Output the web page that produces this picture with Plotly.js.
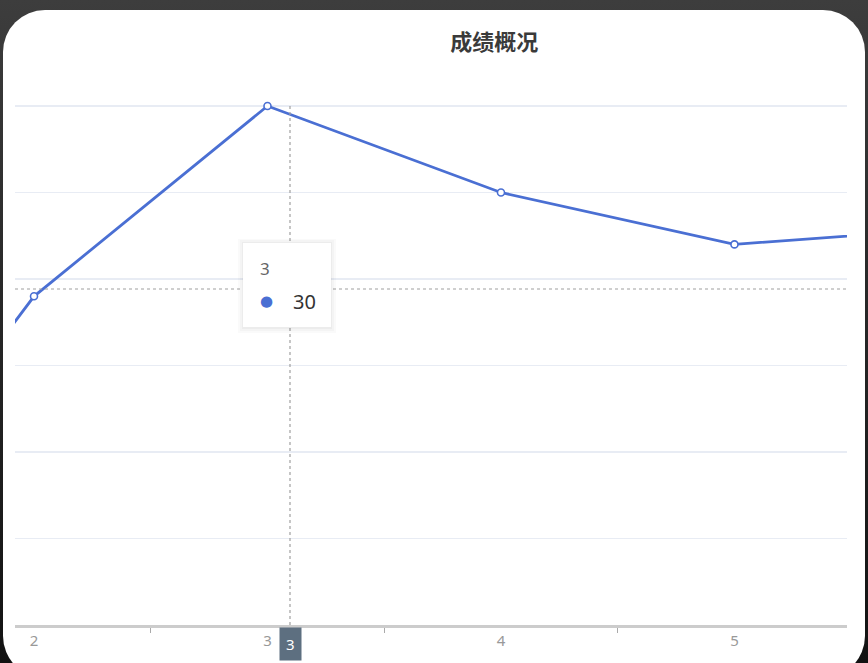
<!DOCTYPE html>
<html>
<head>
<meta charset="utf-8">
<script src="https://cdn.plot.ly/plotly-3.0.1.min.js"></script>
<style>
  html, body { margin: 0; padding: 0; width: 868px; height: 663px; overflow: hidden; }
  body { background: linear-gradient(#3d3d3d 0%, #2a2a2a 40%, #121212 100%); position: relative; }
  #card { position: absolute; left: 3px; top: 10px; width: 862px; height: 668px; background: #ffffff; border-radius: 42px; }
  #chart { position: absolute; left: 0; top: 0; width: 868px; height: 663px; }
</style>
</head>
<body>
<div id="card"></div>
<div id="chart"></div>
<script>
// ---- data ----
const categories = ['1', '2', '3', '4', '5', '6'];
const scores = [1, 19, 30, 25, 22, 23];
const titleText = '成绩概况';
const tooltipCategory = '3';
const tooltipValue = '30';

// ---- layout constants ----
const W = 868, H = 663;
const M = { l: 15, r: 21, t: 96, b: 38 };
const xs = categories.map((c, i) => i + 1);
const xRange = [1.9186, 5.482];
const yRange = [0, 30.578];
const lineColor = '#4a6fd3';

function px2x(px) { return xRange[0] + (px - M.l) / (W - M.l - M.r) * (xRange[1] - xRange[0]); }
function py2y(py) { return yRange[0] + (H - M.b - py) / (H - M.t - M.b) * (yRange[1] - yRange[0]); }

const trace = {
  x: xs,
  y: scores,
  type: 'scatter',
  mode: 'lines+markers',
  line: { color: lineColor, width: 2.8 },
  marker: { symbol: 'circle', size: 7, color: '#ffffff', line: { color: lineColor, width: 1.6 } },
  hoverinfo: 'skip',
  cliponaxis: true
};

const pointerX = px2x(290);
const pointerY = py2y(289);
const tipX0 = px2x(243), tipX1 = px2x(331);
const tipY0 = py2y(327), tipY1 = py2y(243);

const shapes = [
  // crosshair
  { type: 'line', xref: 'x', yref: 'y', x0: pointerX, x1: pointerX, y0: 0, y1: py2y(104),
    line: { color: '#a0a0a0', width: 1.2, dash: 'dot' }, layer: 'above' },
  { type: 'line', xref: 'paper', yref: 'y', x0: 0, x1: 1, y0: pointerY, y1: pointerY,
    line: { color: '#a0a0a0', width: 1.2, dash: 'dot' }, layer: 'above' },
  // tooltip shadow
  { type: 'rect', xref: 'x', yref: 'y', x0: px2x(238), x1: px2x(336), y0: py2y(333), y1: py2y(239),
    fillcolor: 'rgba(0,0,0,0.018)', line: { width: 0 }, layer: 'above' },
  { type: 'rect', xref: 'x', yref: 'y', x0: px2x(240), x1: px2x(334), y0: py2y(331), y1: py2y(240),
    fillcolor: 'rgba(0,0,0,0.025)', line: { width: 0 }, layer: 'above' },
  { type: 'rect', xref: 'x', yref: 'y', x0: px2x(242), x1: px2x(332), y0: py2y(329), y1: py2y(242),
    fillcolor: 'rgba(0,0,0,0.03)', line: { width: 0 }, layer: 'above' },
  // tooltip box
  { type: 'rect', xref: 'x', yref: 'y', x0: tipX0, x1: tipX1, y0: tipY0, y1: tipY1,
    fillcolor: '#ffffff', line: { width: 0 }, layer: 'above' }
];

const annotations = [
  { xref: 'x', yref: 'y', x: px2x(258), y: py2y(268), xanchor: 'left', yanchor: 'middle',
    text: tooltipCategory, showarrow: false, font: { family: 'Noto Sans, sans-serif', size: 17, color: '#666666' } },
  { xref: 'x', yref: 'y', x: px2x(266), y: py2y(301), xanchor: 'center', yanchor: 'middle',
    text: '●', showarrow: false, font: { family: 'DejaVu Sans, sans-serif', size: 15, color: lineColor } },
  { xref: 'x', yref: 'y', x: px2x(291), y: py2y(301), xanchor: 'left', yanchor: 'middle',
    text: tooltipValue, showarrow: false, font: { family: 'Noto Sans, sans-serif', size: 20, color: '#333333' } },
  // axis pointer label
  { xref: 'x', yref: 'paper', x: pointerX, y: 0, yshift: -2, xanchor: 'center', yanchor: 'top',
    text: tooltipCategory, showarrow: false, bgcolor: '#5d6f80', borderpad: 6,
    font: { family: 'Noto Sans, sans-serif', size: 15, color: '#ffffff' } }
];

const layout = {
  width: W, height: H,
  margin: M,
  paper_bgcolor: 'rgba(0,0,0,0)',
  plot_bgcolor: 'rgba(0,0,0,0)',
  showlegend: false,
  title: {
    text: titleText,
    x: 500 / W, xanchor: 'center', xref: 'paper',
    y: 1 - 42 / H, yanchor: 'middle', yref: 'container',
    font: { family: 'Noto Sans CJK SC, sans-serif', size: 22, color: '#3a3a3a', weight: 'bold' }
  },
  xaxis: {
    range: xRange,
    tickmode: 'array',
    tickvals: xs,
    ticktext: categories,
    ticks: '',
    showgrid: false,
    zeroline: false,
    showline: true,
    linecolor: '#cccccc',
    linewidth: 3,
    tickfont: { family: 'Noto Sans, sans-serif', size: 15, color: '#999999' },
    minor: { tickmode: 'array', tickvals: [1.5, 2.5, 3.5, 4.5, 5.5], ticks: 'outside', ticklen: 5, tickwidth: 1, tickcolor: '#aaaaaa', showgrid: false },
    fixedrange: true
  },
  yaxis: {
    range: yRange,
    tickmode: 'array',
    tickvals: [5, 10, 15, 20, 25, 30],
    showticklabels: false,
    ticks: '',
    showgrid: true,
    gridcolor: '#e8ecf4',
    gridwidth: 1.5,
    zeroline: false,
    showline: false,
    fixedrange: true
  },
  shapes: shapes,
  annotations: annotations
};

Plotly.newPlot('chart', [trace], layout, { displayModeBar: false, staticPlot: true });
</script>
</body>
</html>
